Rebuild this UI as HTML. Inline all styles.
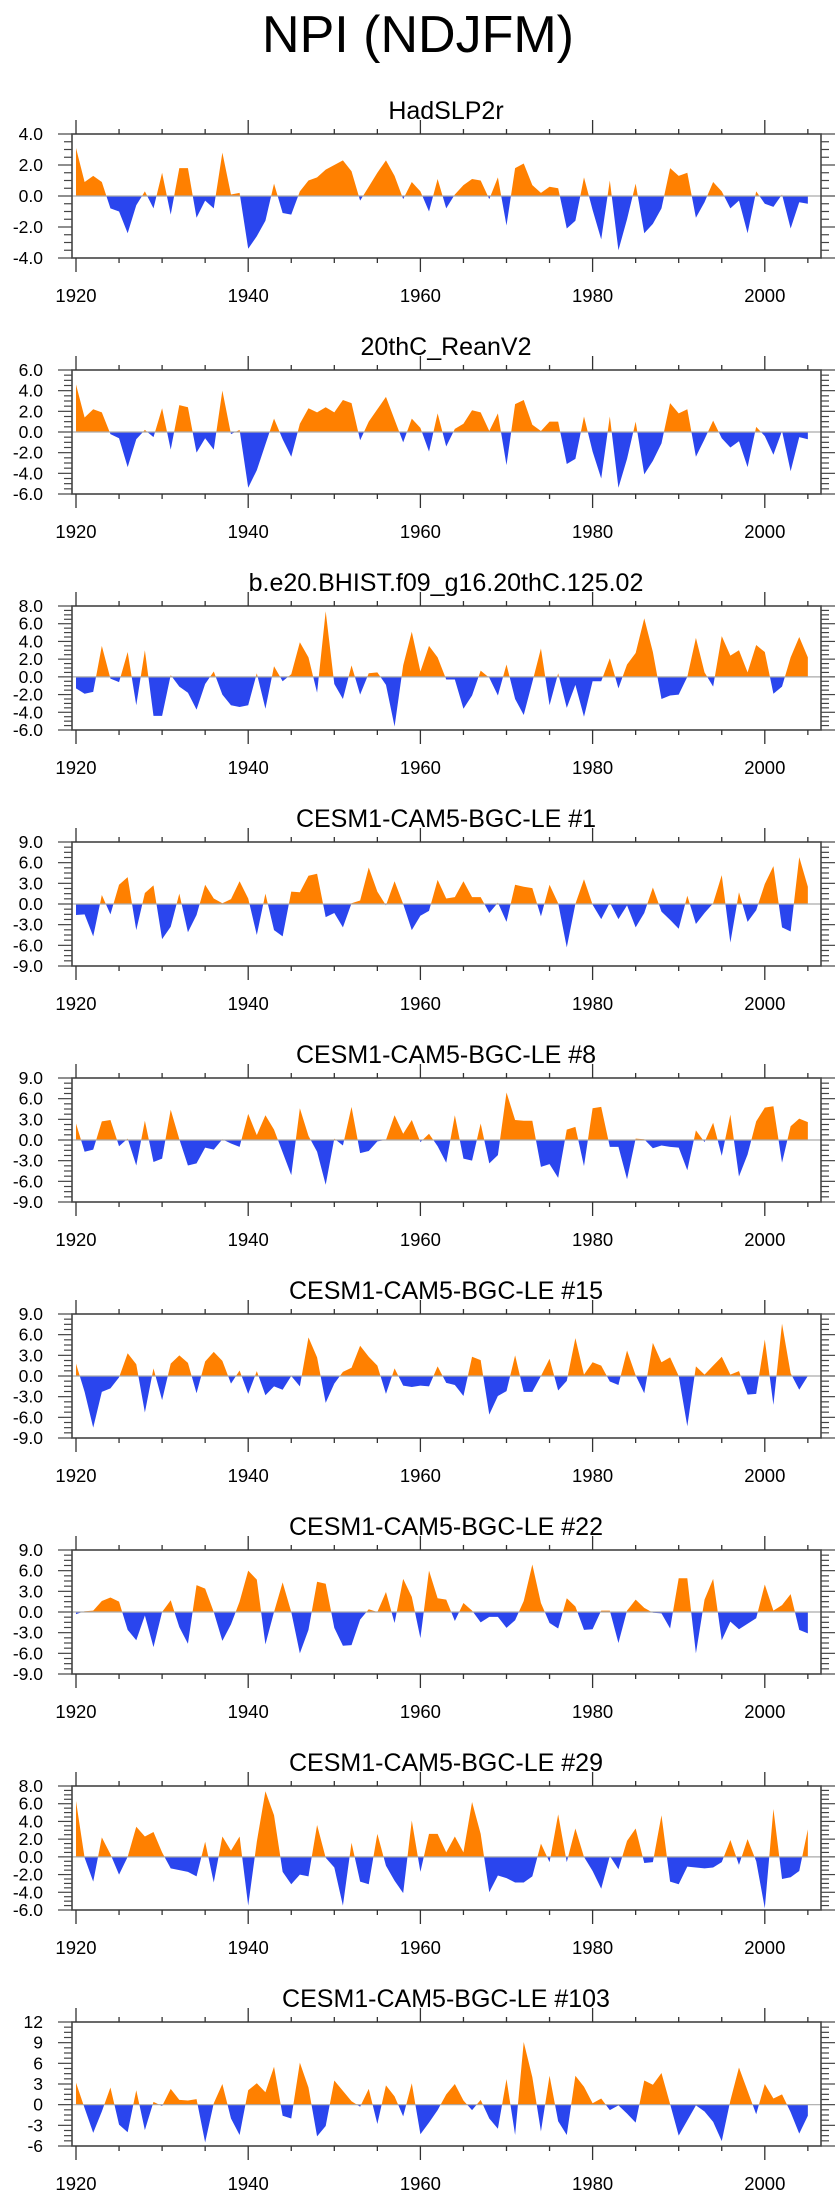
<!DOCTYPE html>
<html><head><meta charset="utf-8"><style>
html,body{margin:0;padding:0;background:#fff;}
svg{display:block;font-family:"Liberation Sans",sans-serif;}
</style></head><body>
<svg id="chart" width="840" height="2200" xmlns="http://www.w3.org/2000/svg">
<text x="418" y="52" font-size="52" text-anchor="middle">NPI (NDJFM)</text>
</svg>
<script>
const titles = ["HadSLP2r","20thC_ReanV2","b.e20.BHIST.f09_g16.20thC.125.02","CESM1-CAM5-BGC-LE #1","CESM1-CAM5-BGC-LE #8","CESM1-CAM5-BGC-LE #15","CESM1-CAM5-BGC-LE #22","CESM1-CAM5-BGC-LE #29","CESM1-CAM5-BGC-LE #103"];
const yMins = [-4,-6,-6,-9,-9,-9,-9,-6,-6];
const yMaxs = [4,6,8,9,9,9,9,8,12];
const yStep = [2,2,2,3,3,3,3,2,3];
const yDecimals = [1,1,1,1,1,1,1,1,0];
const startYear = 1920;
const xTickYears = [1920,1940,1960,1980,2000];
const s1 = [3.1,0.9,1.3,0.9,-0.8,-1.0,-2.4,-0.6,0.3,-0.8,1.5,-1.2,1.8,1.8,-1.4,-0.3,-0.8,2.8,0.1,0.2,-3.4,-2.6,-1.6,0.8,-1.1,-1.2,0.3,1.0,1.2,1.7,2.0,2.3,1.6,-0.3,0.6,1.5,2.3,1.3,-0.2,0.9,0.3,-1.0,1.1,-0.8,0.1,0.7,1.1,1.0,-0.2,1.2,-1.9,1.8,2.1,0.7,0.2,0.6,0.5,-2.1,-1.6,1.2,-0.9,-2.8,1.0,-3.5,-1.5,0.8,-2.4,-1.8,-0.8,1.8,1.3,1.5,-1.4,-0.4,0.9,0.3,-0.8,-0.3,-2.4,0.3,-0.5,-0.7,0.1,-2.1,-0.4,-0.5];
const s2 = [4.6,1.4,2.2,1.9,-0.2,-0.6,-3.4,-0.7,0.2,-0.5,2.3,-1.7,2.6,2.4,-2.0,-0.6,-1.7,4.0,-0.2,0.2,-5.4,-3.7,-1.2,1.3,-0.7,-2.4,0.8,2.3,1.9,2.4,1.9,3.1,2.8,-0.8,1.0,2.2,3.4,1.2,-1.0,1.3,0.4,-1.9,1.8,-1.4,0.3,0.8,2.1,1.9,0.1,1.8,-3.2,2.7,3.1,0.7,0.1,1.0,1.0,-3.1,-2.6,1.5,-1.9,-4.5,1.5,-5.4,-2.6,1.0,-4.1,-2.8,-1.1,2.8,1.8,2.2,-2.4,-0.7,1.1,-0.6,-1.5,-0.9,-3.4,0.5,-0.4,-2.2,0.1,-3.8,-0.5,-0.7];
const s3 = [-1.3,-1.9,-1.7,3.5,-0.2,-0.6,2.8,-3.2,3.0,-4.4,-4.4,0.2,-1.1,-1.8,-3.7,-0.8,0.6,-2.0,-3.2,-3.4,-3.2,0.4,-3.6,1.2,-0.5,0.3,3.9,2.2,-1.8,7.4,-0.8,-2.5,1.3,-2.0,0.4,0.5,-0.9,-5.6,1.3,5.1,0.6,3.5,2.2,-0.3,-0.3,-3.6,-2.1,0.7,-0.1,-2.1,1.4,-2.5,-4.3,-0.6,3.2,-3.2,0.4,-3.5,-0.9,-4.5,-0.5,-0.5,2.1,-1.3,1.4,2.7,6.6,2.8,-2.5,-2.1,-2.0,0.0,4.4,0.5,-1.1,4.6,2.4,3.0,0.5,3.6,2.8,-1.9,-1.1,2.2,4.5,2.2];
const s4 = [-1.6,-1.5,-4.7,1.3,-1.5,2.8,3.9,-3.8,1.6,2.7,-5.1,-3.3,1.5,-4.1,-1.6,2.8,0.8,0.1,0.7,3.3,0.8,-4.5,1.5,-3.8,-4.7,1.8,1.7,4.1,4.4,-1.9,-1.3,-3.4,0.1,0.5,5.3,1.8,-0.2,3.3,0.0,-3.8,-1.7,-1.0,3.5,0.8,1.0,3.3,1.0,1.0,-1.3,0.2,-2.6,2.8,2.5,2.3,-1.8,2.8,0.1,-6.3,0.0,3.6,-0.1,-2.2,0.2,-2.2,-0.2,-3.4,-1.3,2.4,-1.1,-2.3,-3.6,1.2,-2.9,-1.3,0.1,4.2,-5.6,1.7,-2.6,-0.9,2.9,5.5,-3.4,-4.0,6.8,2.5];
const s5 = [2.4,-1.7,-1.4,2.7,2.9,-0.9,0.2,-3.7,2.8,-3.2,-2.7,4.4,0.1,-3.7,-3.4,-1.1,-1.4,0.1,-0.5,-1.0,3.8,0.7,3.6,1.5,-1.8,-5.1,4.6,0.6,-1.7,-6.5,0.2,-0.8,4.8,-1.9,-1.6,-0.2,0.0,3.6,0.9,2.9,-0.3,0.9,-0.9,-3.3,3.6,-2.7,-3.0,2.4,-3.4,-2.2,6.9,2.9,2.8,2.8,-3.9,-3.5,-5.5,1.5,1.9,-3.8,4.6,4.8,-1.0,-1.0,-5.7,0.2,0.1,-1.2,-0.8,-1.0,-1.1,-4.4,1.4,-0.3,2.5,-2.3,3.7,-5.3,-2.1,2.7,4.7,4.9,-3.3,2.0,3.1,2.6];
const s6 = [1.8,-2.3,-7.5,-2.3,-1.8,-0.2,3.3,1.7,-5.3,1.1,-3.5,1.8,3.0,1.9,-2.5,2.1,3.5,2.2,-1.1,0.8,-2.6,0.7,-2.8,-1.5,-2.0,0.0,-1.5,5.6,2.7,-3.9,-1.1,0.6,1.2,4.4,2.8,1.5,-2.6,1.1,-1.4,-1.6,-1.4,-1.5,1.4,-1.0,-1.3,-2.9,2.8,2.3,-5.6,-2.9,-2.2,3.0,-2.3,-2.3,0.0,2.5,-2.1,-0.7,5.5,0.2,2.0,1.5,-0.8,-1.3,3.7,0.1,-2.5,4.8,2.0,2.7,0.0,-7.3,1.4,0.2,1.5,2.8,0.2,0.7,-2.7,-2.6,5.3,-4.2,7.6,0.4,-2.0,0.0];
const s7 = [-0.3,0.1,0.2,1.6,2.1,1.5,-2.6,-4.1,-0.5,-5.1,0.0,1.7,-2.2,-4.6,3.9,3.4,0.0,-4.2,-1.8,1.5,6.0,4.7,-4.7,0.0,4.3,0.0,-6.0,-2.6,4.4,4.1,-2.3,-4.9,-4.8,-1.1,0.4,0.0,2.9,-1.6,4.8,2.2,-3.8,6.0,2.0,1.8,-1.3,1.3,0.2,-1.5,-0.7,-0.7,-2.3,-1.2,1.6,6.9,1.3,-1.6,-2.4,2.0,0.8,-2.6,-2.5,0.2,0.2,-4.5,0.2,1.8,0.6,-0.1,-0.2,-2.4,4.9,4.9,-6.0,1.8,4.8,-4.1,-1.4,-2.5,-1.7,-0.9,4.0,0.2,1.0,2.6,-2.6,-3.1];
const s8 = [6.3,-0.1,-2.8,2.2,0.3,-2.0,0.0,3.4,2.3,2.8,0.5,-1.3,-1.5,-1.7,-2.2,1.7,-2.9,2.3,0.7,2.3,-5.5,1.7,7.4,4.7,-1.7,-3.1,-2.0,-2.2,3.6,-0.1,-1.2,-5.5,1.6,-2.8,-3.1,2.6,-1.0,-2.7,-4.1,4.1,-1.7,2.6,2.6,0.5,2.3,0.5,6.2,2.6,-4.0,-2.1,-2.4,-2.9,-2.9,-2.2,1.5,-0.6,4.8,-0.6,3.2,0.0,-1.6,-3.6,0.1,-1.4,1.8,3.2,-0.7,-0.6,4.7,-2.8,-3.1,-1.1,-1.2,-1.3,-1.2,-0.6,1.9,-0.9,2.0,-0.5,-5.8,5.4,-2.5,-2.3,-1.6,3.1];
const s9 = [3.2,-0.5,-4.1,-1.0,2.5,-2.9,-4.0,2.1,-3.7,0.4,-0.2,2.3,0.7,0.6,0.8,-5.5,0.2,3.0,-2.0,-4.4,2.1,3.1,1.8,5.5,-1.6,-2.0,6.1,2.5,-4.6,-3.1,3.5,2.0,0.5,-0.3,2.3,-2.8,2.8,1.2,-1.7,3.1,-4.3,-2.6,-0.8,1.5,3.0,0.6,-0.8,0.7,-2.0,-3.5,3.7,-4.4,9.1,4.0,-3.9,4.2,-2.4,-4.4,4.2,2.6,0.2,0.9,-0.8,-0.1,-1.3,-2.6,3.5,2.9,4.6,0.1,-4.5,-2.3,-0.1,-1.0,-2.5,-5.3,0.6,5.4,2.0,-1.4,3.0,0.9,1.5,-1.1,-4.2,-1.6];
const series = [s1,s2,s3,s4,s5,s6,s7,s8,s9];

const NS = "http://www.w3.org/2000/svg";
const svg = document.getElementById("chart");
const L = 72, R = 821, PH = 124;
function xOf(yr){ return 76 + (yr - 1920) * 8.61; }
function mk(tag, attrs, parent){ const e = document.createElementNS(NS, tag); for (const k in attrs) e.setAttribute(k, attrs[k]); (parent||svg).appendChild(e); return e; }

series.forEach((vals, p) => {
  const top = 134 + 236 * p, bot = top + PH;
  const lo = yMins[p], hi = yMaxs[p];
  const yOf = v => bot - (v - lo) / (hi - lo) * PH;
  const y0 = yOf(0);
  const g = mk("g", {});
  
  
  const t = mk("text", {x: 446, y: top - 15, "font-size": 25, "text-anchor": "middle"}, g);
  
  
  t.textContent = titles[p];
  const defs = mk("defs", {}, g);
  const cpA = mk("clipPath", {id: "ca" + p}, defs);
  mk("rect", {x: L, y: top, width: R - L, height: y0 - top}, cpA);
  const cpB = mk("clipPath", {id: "cb" + p}, defs);
  mk("rect", {x: L, y: y0, width: R - L, height: bot - y0}, cpB);
  let d = "M" + xOf(startYear) + "," + y0;
  vals.forEach((v, i) => { d += " L" + xOf(startYear + i).toFixed(2) + "," + yOf(v).toFixed(2); });
  d += " L" + xOf(startYear + vals.length - 1).toFixed(2) + "," + y0 + " Z";
  const pos = mk("path", {d: d, fill: "#ff8000", "clip-path": "url(#ca" + p + ")"}, g);
  
  
  const neg = mk("path", {d: d, fill: "#2a45ee", "clip-path": "url(#cb" + p + ")"}, g);
  
  
  const zl = mk("line", {x1: L, x2: R, y1: y0, y2: y0, stroke: "#aaa", "stroke-width": 1.2}, g);
  
  
  const fr = mk("rect", {x: L, y: top, width: R - L, height: PH, fill: "none", stroke: "#444", "stroke-width": 1.6}, g);
  
  
  for (let yr = 1920; yr <= 2005; yr += 5) {
    const x = xOf(yr), major = (yr % 20 === 0), len = major ? 14 : 5;
    mk("line", {x1: x, x2: x, y1: top, y2: top - len, stroke: "#333", "stroke-width": 1.3}, g);
    mk("line", {x1: x, x2: x, y1: bot, y2: bot + len, stroke: "#333", "stroke-width": 1.3}, g);
  }
  xTickYears.forEach(yr => {
    const tl = mk("text", {x: xOf(yr), y: bot + 44, "font-size": 18.5, "text-anchor": "middle"}, g);
    
    
    tl.textContent = yr;
  });
  const st = yStep[p], minor = st / 4;
  for (let v = lo; v <= hi + 1e-6; v += minor) {
    const y = yOf(v), isMajor = Math.abs(v / st - Math.round(v / st)) < 1e-6, len = isMajor ? 14 : 8;
    mk("line", {x1: L, x2: L - len, y1: y, y2: y, stroke: "#444", "stroke-width": 1.2}, g);
    mk("line", {x1: R, x2: R + len, y1: y, y2: y, stroke: "#444", "stroke-width": 1.2}, g);
  }
  for (let v = lo; v <= hi + 1e-6; v += st) {
    const yl = mk("text", {x: 43, y: yOf(v) + 6, "font-size": 17.5, "text-anchor": "end"}, g);
    
    
    yl.textContent = v.toFixed(yDecimals[p]);
  }
});
</script>
</body></html>
